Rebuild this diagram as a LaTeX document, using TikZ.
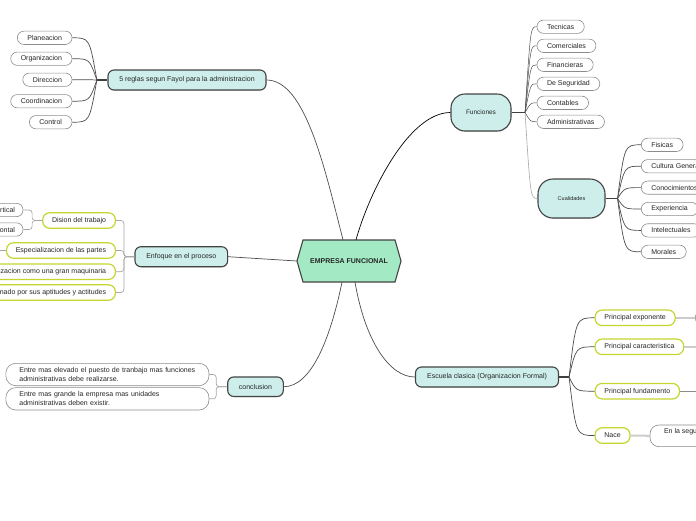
\documentclass[tikz,border=0pt]{standalone}
\usepackage{fontspec}
\setmainfont{Liberation Sans}
\usetikzlibrary{shadows}

\definecolor{turquesa}{RGB}{205,238,234}
\definecolor{menta}{RGB}{163,233,195}
\definecolor{borde}{RGB}{68,68,68}
\definecolor{lima}{RGB}{197,214,46}
\definecolor{grisclaro}{RGB}{204,204,204}

\tikzset{
  tema/.style={draw=borde, line width=1.1pt, fill=turquesa, rounded corners=6pt, minimum height=20pt, inner xsep=8pt, text=black!85, font=\fontsize{7}{8.5}\selectfont, drop shadow={shadow xshift=0.4pt, shadow yshift=-0.9pt, opacity=0.25}},
  hoja/.style={draw=black!45, line width=0.6pt, fill=white, rounded corners=6.5pt, minimum height=13.3pt, inner xsep=10pt, inner ysep=0pt, text=black!85, font=\fontsize{7}{8.5}\selectfont},
  verde/.style={hoja, draw=lima, line width=1.2pt, minimum height=15.5pt, rounded corners=7pt, inner xsep=9.3pt},
  rama/.style={draw=black!70, line width=0.7pt},
  tallo/.style={draw=black!75, line width=1.6pt},
  corchete/.style={draw=black!35, line width=0.7pt, rounded corners=3pt},
  enlace/.style={draw=grisclaro, line width=2pt},
}

\begin{document}
\begin{tikzpicture}[x=1pt, y=-1pt]
\useasboundingbox (0,0) rectangle (696,520);

% Tema central
\draw[draw=borde, fill=menta, line width=1.1pt] (297,261) -- (303,240) -- (395,240) -- (401,261) -- (395,282) -- (303,282) -- cycle;
\node at (349,261) [minimum width=104pt, minimum height=42pt, text=black!85, font=\bfseries\fontsize{7}{8.5}\selectfont] (centro) {EMPRESA FUNCIONAL};

% 5 reglas de Fayol
\node at (187,80) [tema, minimum width=158pt] (reglas) {5 reglas segun Fayol para la administracion};
\node at (72.3,37.8) [hoja, anchor=east] (planeacion) {Planeacion};
\node at (72.3,58.7) [hoja, anchor=east] (organizacion) {Organizacion};
\node at (72.3,79.7) [hoja, anchor=east] (direccion) {Direccion};
\node at (72.3,101.2) [hoja, anchor=east] (coordinacion) {Coordinacion};
\node at (72.3,122.2) [hoja, anchor=east] (control) {Control};
\coordinate (rj) at ([xshift=-10.6pt]reglas.west);
\coordinate (rc) at ([xshift=-18pt]reglas.west);
\draw[tallo] (reglas.west) -- (rj);
\draw[rama] (rj) .. controls (rc |- planeacion.east) .. (planeacion.east);
\draw[rama] (rj) .. controls (rc |- organizacion.east) .. (organizacion.east);
\draw[rama] (rj) .. controls (rc |- direccion.east) .. (direccion.east);
\draw[rama] (rj) .. controls (rc |- coordinacion.east) .. (coordinacion.east);
\draw[rama] (rj) .. controls (rc |- control.east) .. (control.east);

% Funciones
\node at (481,112.5) [tema, minimum width=60pt, minimum height=37pt, rounded corners=14pt, font=\fontsize{6.5}{8}\selectfont] (funciones) {Funciones};
\node at (536.7,26.7) [hoja, anchor=west] (tecnicas) {Tecnicas};
\node at (536.7,45.8) [hoja, anchor=west] (comerciales) {Comerciales};
\node at (536.7,64.8) [hoja, anchor=west] (financieras) {Financieras};
\node at (536.7,83.8) [hoja, anchor=west] (seguridad) {De Seguridad};
\node at (536.7,102.8) [hoja, anchor=west] (contables) {Contables};
\node at (536.7,121.8) [hoja, anchor=west] (administrativas) {Administrativas};
\coordinate (fj) at ([xshift=13.5pt]funciones.east);
\coordinate (fc) at ([xshift=19pt]funciones.east);
\draw[tallo] (funciones.east) -- (fj);
\draw[rama, line width=0.5pt] (fj) .. controls (fc |- tecnicas.west) .. (tecnicas.west);
\draw[rama, line width=0.5pt] (fj) .. controls (fc |- comerciales.west) .. (comerciales.west);
\draw[rama, line width=0.5pt] (fj) .. controls (fc |- financieras.west) .. (financieras.west);
\draw[rama, line width=0.5pt] (fj) .. controls (fc |- seguridad.west) .. (seguridad.west);
\draw[rama, line width=0.5pt] (fj) .. controls (fc |- contables.west) .. (contables.west);
\draw[rama, line width=0.5pt] (fj) .. controls (fc |- administrativas.west) .. (administrativas.west);

% Cualidades
\node at (571.5,198.5) [tema, minimum width=67pt, minimum height=39pt, rounded corners=15pt, font=\fontsize{5.5}{7}\selectfont] (cualidades) {Cualidades};
\draw[rama, draw=black!35, line width=0.6pt] (fj) .. controls (fc |- cualidades.west) .. (cualidades.west);
\node at (641,144.8) [hoja, anchor=west] (fisicas) {Fisicas};
\node at (641,166.2) [hoja, anchor=west] (cultura) {Cultura General};
\node at (641,187.6) [hoja, anchor=west] (conocimientos) {Conocimientos};
\node at (641,209) [hoja, anchor=west] (experiencia) {Experiencia};
\node at (641,230.4) [hoja, anchor=west] (intelectuales) {Intelectuales};
\node at (641,251.8) [hoja, anchor=west] (morales) {Morales};
\coordinate (cj) at ([xshift=12pt]cualidades.east);
\coordinate (cc) at ([xshift=19pt]cualidades.east);
\draw[tallo] (cualidades.east) -- (cj);
\draw[rama] (cj) .. controls (cc |- fisicas.west) .. (fisicas.west);
\draw[rama] (cj) .. controls (cc |- cultura.west) .. (cultura.west);
\draw[rama] (cj) .. controls (cc |- conocimientos.west) .. (conocimientos.west);
\draw[rama] (cj) .. controls (cc |- experiencia.west) .. (experiencia.west);
\draw[rama] (cj) .. controls (cc |- intelectuales.west) .. (intelectuales.west);
\draw[rama] (cj) .. controls (cc |- morales.west) .. (morales.west);

% Escuela clasica
\node at (487,377) [tema, minimum width=143pt] (escuela) {Escuela clasica (Organizacion Formal)};
\node at (594.5,317.8) [verde, anchor=west] (exponente) {Principal exponente};
\node at (594.5,346.8) [verde, anchor=west] (caracteristica) {Principal caracteristica};
\node at (594.5,391.2) [verde, anchor=west] (fundamento) {Principal fundamento};
\node at (594.5,435.5) [verde, anchor=west] (nace) {Nace};
\coordinate (ej) at ([xshift=10pt]escuela.east);
\coordinate (ec) at ([xshift=17pt]escuela.east);
\draw[tallo] (escuela.east) -- (ej);
\draw[rama] (ej) .. controls (ec |- exponente.west) .. (exponente.west);
\draw[rama] (ej) .. controls (ec |- caracteristica.west) .. (caracteristica.west);
\draw[rama] (ej) .. controls (ec |- fundamento.west) .. (fundamento.west);
\draw[rama] (ej) .. controls (ec |- nace.west) .. (nace.west);
\node at (695,317.8) [hoja, anchor=west, minimum width=40pt] (exponentehijo) {};
\coordinate (caracteristicahijo) at (700,346.8);
\coordinate (fundamentohijo) at (700,391.2);
\node at (649.7,435.8) [hoja, anchor=west, align=center, rounded corners=9pt, inner xsep=14pt, inner ysep=2pt, minimum height=21.7pt, font=\fontsize{7}{9}\selectfont] (nacehijo) {En la segunda mitad del siglo XIX\\en Francia};
\draw[enlace] (exponente.east) -- (exponentehijo.west);
\draw[enlace] (caracteristica.east) -- (caracteristicahijo);
\draw[rama, draw=black!45, line width=0.6pt] (fundamento.east) -- (fundamentohijo);
\draw[enlace] (nace.east) -- (nacehijo.west);

% Enfoque en el proceso
\node at (181.3,256.7) [tema, minimum width=92.7pt] (enfoque) {Enfoque en el proceso};
\node at (116,220.5) [verde, anchor=east] (dision) {Dision del trabajo};
\node at (116,250.5) [verde, anchor=east] (especializacion) {Especializacion de las partes};
\node at (116,271.7) [verde, anchor=east] (maquinaria) {Organizacion como una gran maquinaria};
\node at (116,292.5) [verde, anchor=east] (aptitudes) {Trabajador seleccionado por sus aptitudes y actitudes};
\coordinate (enj) at ([xshift=-10.5pt]enfoque.west);
\draw[corchete] (enfoque.west) -- (enj) |- (dision.east);
\draw[corchete] (enfoque.west) -- (enj) |- (especializacion.east);
\draw[corchete] (enfoque.west) -- (enj) |- (maquinaria.east);
\draw[corchete] (enfoque.west) -- (enj) |- (aptitudes.east);
\node at (23.3,210) [hoja, anchor=east, inner xsep=8pt] (vertical) {Vertical};
\node at (23.3,229.5) [hoja, anchor=east, inner xsep=8pt] (horizontal) {Horizontal};
\coordinate (dj) at ([xshift=-10pt]dision.west);
\draw[corchete] (dision.west) -- (dj) |- (vertical.east);
\draw[corchete] (dision.west) -- (dj) |- (horizontal.east);
\coordinate (especializacionhijo) at (-5,250.5);
\draw[corchete] (especializacion.west) -- (especializacionhijo);

% Conclusion
\node at (255.5,386.7) [tema, minimum width=55.6pt, minimum height=19.5pt] (conclusion) {conclusion};
\node at (209.3,374.5) [hoja, anchor=east, text width=176pt, align=left, inner xsep=13.6pt, rounded corners=10pt, minimum height=22.4pt, font=\fontsize{7}{9}\selectfont] (elevado) {Entre mas elevado el puesto de tranbajo mas funciones\\administrativas debe realizarse.};
\node at (209.3,398.8) [hoja, anchor=east, text width=176pt, align=left, inner xsep=13.6pt, rounded corners=10pt, minimum height=22.4pt, font=\fontsize{7}{9}\selectfont] (grande) {Entre mas grande la empresa mas unidades\\administrativas deben existir.};
\coordinate (coj) at ([xshift=-11pt]conclusion.west);
\draw[corchete] (conclusion.west) -- (coj) |- (elevado.east);
\draw[corchete] (conclusion.west) -- (coj) |- (grande.east);

% Ramas del tema central
\draw[rama] ([xshift=-6pt]centro.north) .. controls +(-18,-70) and +(39,0) .. (reglas.east);
\draw[rama, draw=black] ([xshift=7pt]centro.north) .. controls +(14,-50) and +(-41,0) .. (funciones.west);
\draw[rama] (enfoque.east) -- (centro.west);
\draw[rama] ([xshift=-7pt]centro.south) .. controls +(-12,58) and +(27,0) .. (conclusion.east);
\draw[rama] ([xshift=6pt]centro.south) .. controls +(10,58) and +(-26,0) .. (escuela.west);
\end{tikzpicture}
\end{document}
